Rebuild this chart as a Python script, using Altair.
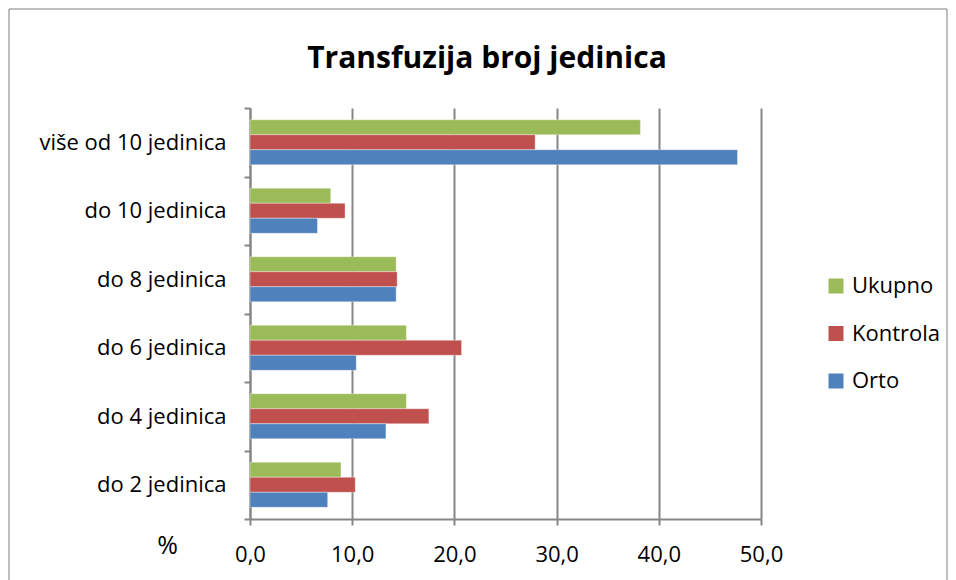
import altair as alt
import pandas as pd

categories = ["više od 10 jedinica", "do 10 jedinica", "do 8 jedinica",
              "do 6 jedinica", "do 4 jedinica", "do 2 jedinica"]
series = ["Ukupno", "Kontrola", "Orto"]
ukupno = [38.2, 7.9, 14.3, 15.3, 15.3, 8.9]
kontrola = [27.9, 9.3, 14.4, 20.7, 17.5, 10.3]
orto = [47.7, 6.6, 14.3, 10.4, 13.3, 7.6]
colors = ["#9BBB59", "#C0504D", "#4F81BD"]
x_ticks = [0, 10, 20, 30, 40, 50]
title_text = "Transfuzija broj jedinica"

rows = []
for s, vals in zip(series, [ukupno, kontrola, orto]):
    for c, v in zip(categories, vals):
        rows.append({"kategorija": c, "serija": s, "vrijednost": v})
df = pd.DataFrame(rows)

FONT = "Open Sans"
GRAY = "#868686"

bars = alt.Chart(df).mark_bar(stroke="white", strokeWidth=0.6, strokeOpacity=0.6).encode(
    y=alt.Y("kategorija:N", sort=categories,
            scale=alt.Scale(paddingInner=0, paddingOuter=0),
            axis=alt.Axis(title=None, tickBand="extent", grid=False,
                          labelFontSize=22, labelFont=FONT, labelColor="#000",
                          labelLimit=400,
                          labelPadding=18, tickSize=6, tickColor=GRAY, tickWidth=2,
                          domainColor=GRAY, domainWidth=2)),
    yOffset=alt.YOffset("serija:N", sort=series,
                        scale=alt.Scale(paddingInner=0, paddingOuter=0.78)),
    x=alt.X("vrijednost:Q",
            scale=alt.Scale(domain=[0, 50], nice=False),
            axis=alt.Axis(values=x_ticks, labelExpr="replace(format(datum.value, '.1f'), '.', ',')",
                          labelFlush=False,
                          title="%", titleFontSize=25, titleFont=FONT, titleFontWeight="normal",
                          titleX=-83, titleY=26, titleAlign="center", titleBaseline="middle",
                          titleColor="#000",
                          labelFontSize=22, labelFont=FONT, labelColor="#000", labelPadding=19,
                          tickSize=6, tickColor=GRAY, tickWidth=2,
                          grid=True, gridColor=GRAY, gridWidth=2,
                          domainColor=GRAY, domainWidth=2)),
    color=alt.Color("serija:N", sort=series,
                    scale=alt.Scale(domain=series, range=colors),
                    legend=alt.Legend(title=None, orient="none", legendX=575, legendY=167,
                                      symbolType="square", symbolSize=225, symbolStrokeWidth=0,
                                      labelFontSize=22, labelFont=FONT, labelColor="#000",
                                      labelOffset=5, rowPadding=25.5, padding=0)),
)

border = alt.Chart(alt.Data(values=[{"t": title_text}])).mark_rect(
    fill=None, stroke="#7f7f7f", strokeWidth=1
).encode(
    x=alt.value(-241), x2=alt.value(697), y=alt.value(-99), y2=alt.value(480)
)

title = alt.Chart(alt.Data(values=[{"t": title_text}])).mark_text(
    font=FONT, fontSize=30, fontWeight="bold", color="#000",
    align="center", baseline="alphabetic"
).encode(
    text="t:N", x=alt.value(237), y=alt.value(-40)
)

chart = alt.layer(border, title, bars).properties(
    width=511, height=411,
    padding=0,
).configure_view(stroke=None)

chart.save("out.html", embed_options={"renderer": "svg", "actions": False})
